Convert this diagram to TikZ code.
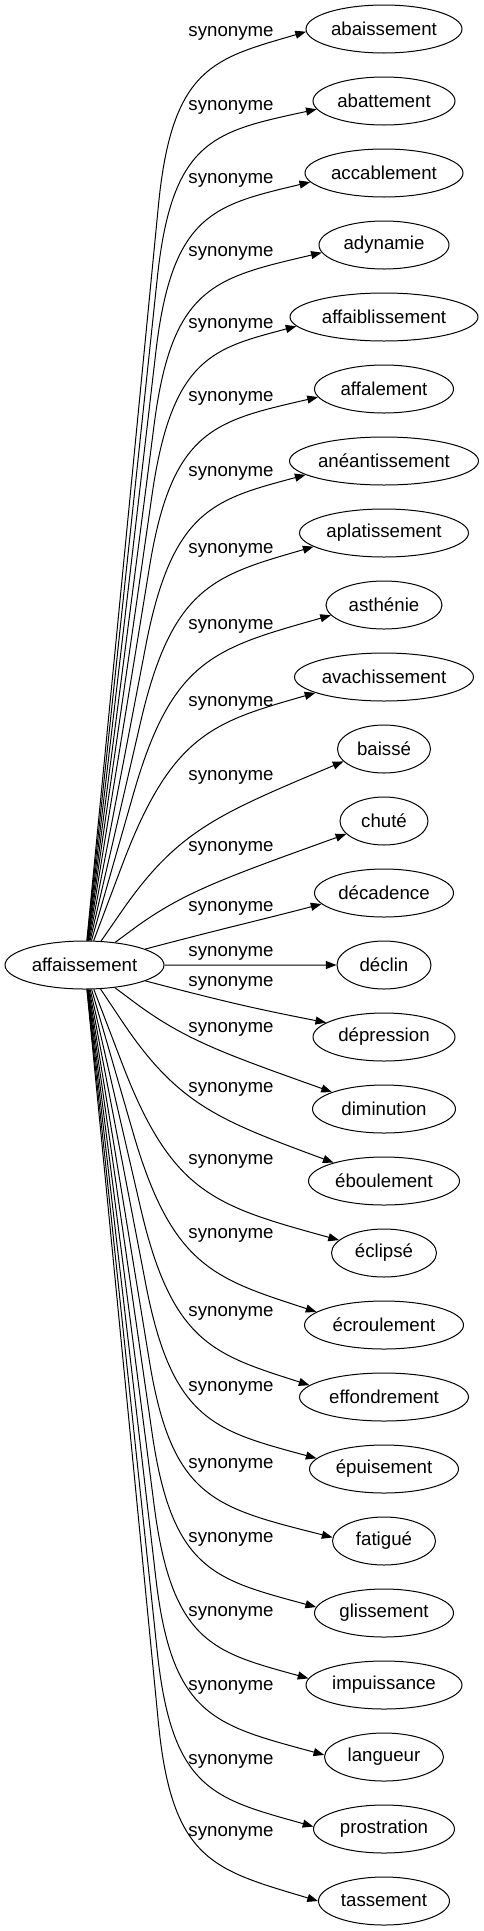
\documentclass[tikz,border=0pt]{standalone}
\usepackage{fontspec}
\setmainfont{Liberation Sans}
\usetikzlibrary{shapes.geometric,arrows.meta,calc}

\tikzset{
  word/.style={draw, ellipse, line width=0.75pt, inner sep=0pt, minimum height=36pt},
  rel/.style={inner sep=0pt},
  link/.style={line width=0.75pt, -{Triangle[length=8pt,width=6pt]}}
}
% name, text, width, y, label y, bend point, end angle, bend length
\newcommand{\syn}[8]{
  \node[word, minimum width=0.75pt*#3] (#1) at (384,#4) {#2};
  \node[rel] (l#1) at (231,#5) {synonyme};
  \draw[link] (aff) -- ($#6!#8!(aff)$) .. controls #6 and ($#6!0.2!(#1)$) .. (#1.#7);
}

\begin{document}
\begin{tikzpicture}[x=0.75pt, y=-0.75pt, font=\fontsize{14}{16}\selectfont]
  \useasboundingbox (0,0) rectangle (483,1931);
  \node[word, minimum width=0.75pt*159] (aff) at (84.5,965) {affaissement};
  % upper half
  \syn{abaissement}{abaissement}{156}{29}{33}{(172,66)}{182}{105pt}
  \syn{abattement}{abattement}{142}{101}{107}{(172,139)}{187}{105pt}
  \syn{accablement}{accablement}{158}{173}{180}{(172,213)}{187}{105pt}
  \syn{adynamie}{adynamie}{130}{245}{253}{(172,286)}{187}{105pt}
  \syn{affaiblissement}{affaiblissement}{188}{317}{325}{(172,356)}{186}{105pt}
  \syn{affalement}{affalement}{139}{389}{398}{(172,429)}{187}{105pt}
  \syn{aneantissement}{anéantissement}{189}{461}{473}{(172,509)}{190}{105pt}
  \syn{aplatissement}{aplatissement}{169}{533}{550}{(172,586)}{191}{105pt}
  \syn{asthenie}{asthénie}{116}{605}{626}{(172,659)}{191}{105pt}
  \syn{avachissement}{avachissement}{179}{677}{703}{(172,733)}{193}{105pt}
  \syn{baisse}{baissé}{93}{749}{777}{(178,830)}{197}{0.6}
  \syn{chute}{chuté}{88}{821}{848}{(182,893)}{199}{0.5}
  \syn{decadence}{décadence}{139}{893}{908}{(233,926)}{190}{0.5}
  % middle
  \syn{declin}{déclin}{94}{965}{953}{(250,965)}{180}{0.5}
  % lower half
  \syn{depression}{dépression}{142}{1037}{983}{(230,1003)}{166}{0.5}
  \syn{diminution}{diminution}{143}{1109}{1029}{(185,1040)}{162}{0.5}
  \syn{eboulement}{éboulement}{151}{1181}{1089}{(178,1105)}{160}{0.6}
  \syn{eclipse}{éclipsé}{105}{1253}{1161}{(172,1194)}{164}{105pt}
  \syn{ecroulement}{écroulement}{159}{1325}{1235}{(172,1267)}{169}{105pt}
  \syn{effondrement}{effondrement}{169}{1397}{1313}{(172,1344)}{171}{105pt}
  \syn{epuisement}{épuisement}{149}{1469}{1388}{(172,1421)}{171}{105pt}
  \syn{fatigue}{fatigué}{103}{1541}{1465}{(172,1499)}{176}{105pt}
  \syn{glissement}{glissement}{139}{1613}{1539}{(172,1571)}{175}{105pt}
  \syn{impuissance}{impuissance}{156}{1685}{1613}{(172,1644)}{175}{105pt}
  \syn{langueur}{langueur}{119}{1757}{1687}{(172,1717)}{178}{105pt}
  \syn{prostration}{prostration}{141}{1829}{1761}{(172,1791)}{178}{105pt}
  \syn{tassement}{tassement}{131}{1901}{1833}{(172,1862)}{180}{105pt}
\end{tikzpicture}
\end{document}
